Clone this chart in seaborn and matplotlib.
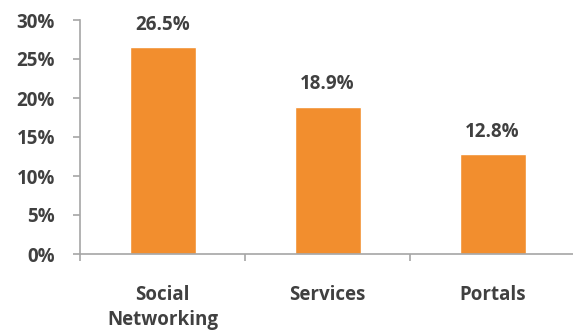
import matplotlib
matplotlib.use("Agg")
import matplotlib.pyplot as plt
import seaborn as sns
import pandas as pd
import numpy as np

categories = ["Social\nNetworking", "Services", "Portals"]
values = [26.5, 18.9, 12.8]
labels = ["26.5%", "18.9%", "12.8%"]
yticks = [0, 5, 10, 15, 20, 25, 30]
ytick_labels = ["0%", "5%", "10%", "15%", "20%", "25%", "30%"]

sns.set_style("white")
plt.rcParams['font.family'] = ['Open Sans', 'DejaVu Sans']

df = pd.DataFrame({"cat": categories, "val": values})

fig = plt.figure(figsize=(5.73, 3.36), dpi=100)
ax = fig.add_axes([80/573, 1-254/336, 495/573, 234/336])
sns.barplot(data=df, x="cat", y="val", color="#F28E2E", width=0.4, ax=ax, saturation=1)

ax.set_xlim(-0.5, 2.5)
ax.set_ylim(0, 30)
ax.set_yticks(yticks)
ax.set_yticklabels(ytick_labels)
ax.set_xlabel("")
ax.set_ylabel("")

fs = 13.5
txtc = "#404040"
spc = "#A6A6A6"
for s in ["top", "right"]:
    ax.spines[s].set_visible(False)
for s in ["left", "bottom"]:
    ax.spines[s].set_color(spc)
    ax.spines[s].set_linewidth(1.2)

ax.tick_params(axis="y", which="major", direction="out", length=5, width=1.2, color=spc,
               left=True, pad=13, labelsize=fs, labelcolor=txtc)
for t in ax.get_yticklabels():
    t.set_fontweight("bold")

ax.set_xticks(range(len(categories)))
ax.set_xticklabels(categories)
ax.tick_params(axis="x", which="major", length=0, pad=22.5, labelsize=fs, labelcolor=txtc)
for t in ax.get_xticklabels():
    t.set_fontweight("bold")
    t.set_linespacing(1.35)
ax.set_xticks([-0.5, 0.5, 1.5, 2.5], minor=True)
ax.tick_params(axis="x", which="minor", direction="out", length=5, width=1.2, color=spc, bottom=True)

for p, lab in zip(ax.patches, labels):
    ax.annotate(lab, (p.get_x() + p.get_width()/2, p.get_height()),
                xytext=(0, 9), textcoords="offset points", ha="center", va="bottom",
                fontsize=fs, fontweight="bold", color=txtc)

fig.savefig("out.png", dpi=100)
